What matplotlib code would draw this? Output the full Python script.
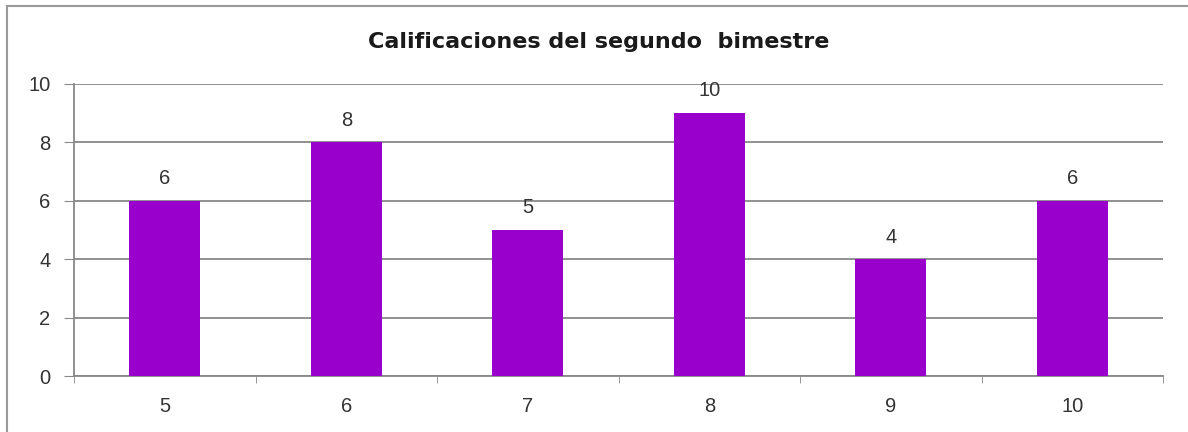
import matplotlib.pyplot as plt
from matplotlib.lines import Line2D
from matplotlib.ticker import FixedLocator

# data
categories = ["5", "6", "7", "8", "9", "10"]
values = [6, 8, 5, 9, 4, 6]
value_labels = ["6", "8", "5", "10", "4", "6"]

plt.rcParams["font.family"] = ["Liberation Sans", "DejaVu Sans"]

fig = plt.figure(figsize=(11.88, 4.32), dpi=100)
ax = fig.add_axes([0.0623, 0.1296, 0.9167, 0.6771])

x = list(range(len(categories)))
bars = ax.bar(x, values, width=0.39, color="#9900CC", zorder=3)

for b, lab in zip(bars, value_labels):
    ax.annotate(lab, (b.get_x() + b.get_width() / 2, b.get_height()),
                xytext=(0, 9), textcoords="offset points",
                ha="center", va="bottom", fontsize=14.5, color="#333333")

ax.set_xlim(-0.5, len(categories) - 0.5)
ax.set_ylim(0, 10)
ax.set_yticks([0, 2, 4, 6, 8, 10])
ax.set_xticks(x)
ax.set_xticklabels(categories)
ax.xaxis.set_minor_locator(FixedLocator([i - 0.5 for i in range(len(categories) + 1)]))

ax.grid(axis="y", color="#888888", linewidth=1.3, zorder=0)
ax.tick_params(axis="y", length=7, color="#888888", labelsize=14.5,
               labelcolor="#333333", pad=10)
ax.tick_params(axis="x", which="major", length=0, labelsize=14.5,
               labelcolor="#333333", pad=15)
ax.tick_params(axis="x", which="minor", length=5, color="#888888")

for s in ["top", "right"]:
    ax.spines[s].set_visible(False)
for s in ["left", "bottom"]:
    ax.spines[s].set_color("#888888")
    ax.spines[s].set_linewidth(1.3)

fig.text(0.504, 0.889, "Calificaciones del segundo  bimestre",
         ha="center", va="baseline", fontsize=16, fontweight="bold",
         family="DejaVu Sans", color="#1a1a1a")

# outer chart frame (only top and left edges are visible in the crop)
fig.add_artist(Line2D([0.006, 0.006], [0.0, 0.986], color="#9a9a9a",
                      linewidth=1.5, transform=fig.transFigure))
fig.add_artist(Line2D([0.006, 1.0], [0.986, 0.986], color="#9a9a9a",
                      linewidth=1.5, transform=fig.transFigure))

fig.savefig("out.png", dpi=100)
